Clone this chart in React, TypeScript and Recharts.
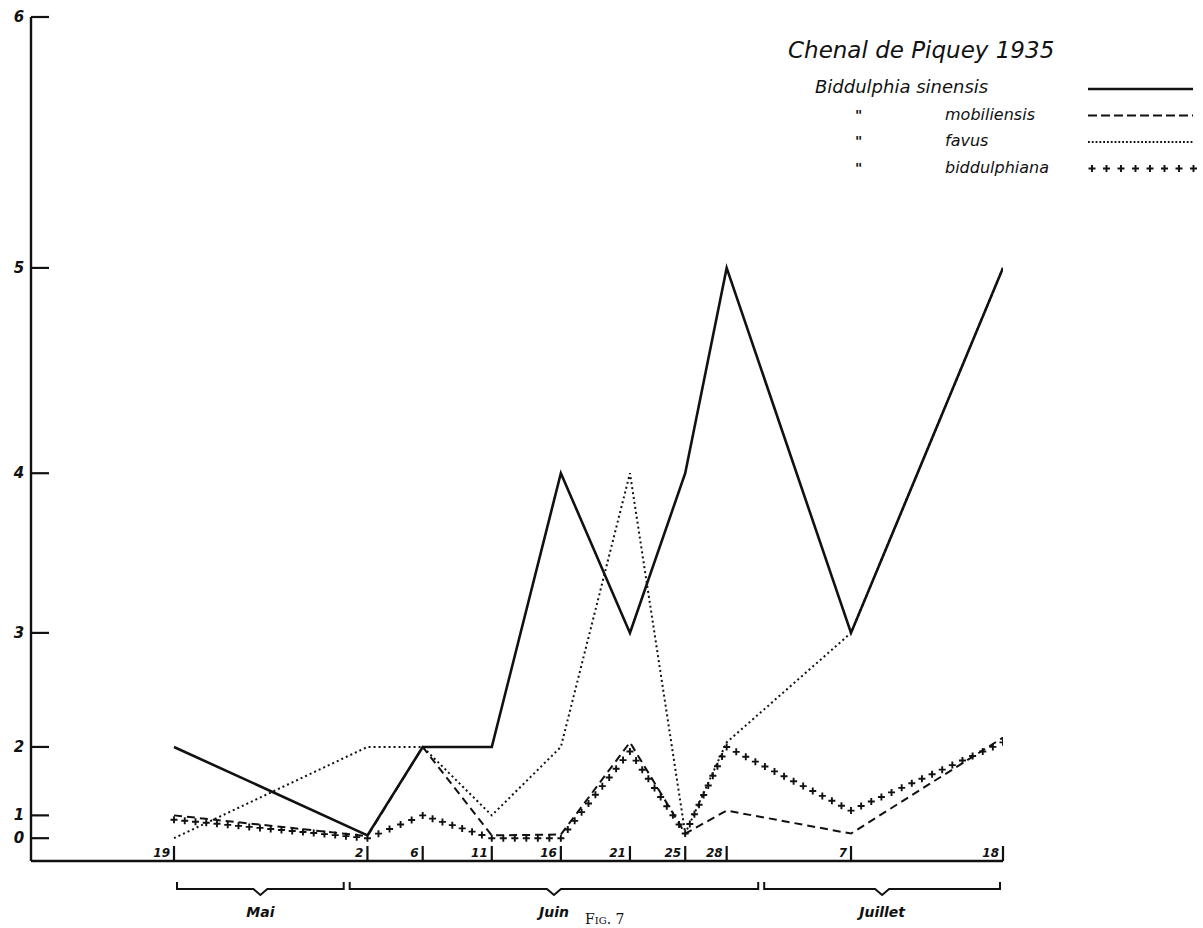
import { LineChart, Line, XAxis, YAxis, ReferenceArea, Legend } from 'recharts';

// Biddulphia counts, Chenal de Piquey, spring/summer 1935
const SAMPLE_DATES = [
  '1935-05-19', '1935-06-02', '1935-06-06', '1935-06-11', '1935-06-16',
  '1935-06-21', '1935-06-25', '1935-06-28', '1935-07-07', '1935-07-18',
];
const SINENSIS = [2, 0.35, 2, 2, 4, 3, 4, 5, 3, 5];
const MOBILIENSIS = [1, 0.3, 2, 0.35, 0.4, 2.05, 0.45, 1.1, 0.45, 2.1];
const FAVUS = [0, 2, 2, 1, 2, 4, 0.45, 2.05, 3, 5];
const BIDDULPHIANA = [0.9, 0, 1, 0, 0, 1.95, 0.45, 2, 1.1, 2.05];

const Y_TICKS = [0, 1, 2, 3, 4, 5, 6];

const MONTH_NAMES = ['Mai', 'Juin', 'Juillet'];
const MONTH_FIRST = ['1935-05-19', '1935-06-01', '1935-07-01'];
const MONTH_LAST = ['1935-05-31', '1935-06-30', '1935-07-18'];

const TITLE = 'Chenal de Piquey 1935';
const SPECIES_LABELS = ['Biddulphia sinensis', 'mobiliensis', 'favus', 'biddulphiana'];
const FIGURE_LABEL = 'Fig. 7';

const W = 1203;
const H = 928;
const INK = '#111';
const HAND = "'DejaVu Sans', sans-serif";

const ORIGIN = Date.parse(SAMPLE_DATES[0]);
const dayOf = (iso: string) => (Date.parse(iso) - ORIGIN) / 86400000;

// the vertical axis is ruled on a square scale, so values are squared before plotting
const sq = (v: number) => v * v;

const rows = SAMPLE_DATES.map((d, i) => ({
  day: dayOf(d),
  sinensis: sq(SINENSIS[i]),
  mobiliensis: sq(MOBILIENSIS[i]),
  favus: sq(FAVUS[i]),
  biddulphiana: sq(BIDDULPHIANA[i]),
}));

const dayLabels = new Map(rows.map((r, i) => [r.day, String(Number(SAMPLE_DATES[i].slice(8)))]));

const months = MONTH_NAMES.map((name, i) => ({
  name,
  from: i === 0 ? dayOf(MONTH_FIRST[i]) : dayOf(MONTH_FIRST[i]) - 0.5,
  to: i === MONTH_NAMES.length - 1 ? dayOf(MONTH_LAST[i]) : dayOf(MONTH_LAST[i]) + 0.5,
}));

const PLUS_STEP = 11;
const PLUS_ARM = 3.5;

function plusMark(px: number, py: number, key: string | number) {
  return (
    <path
      key={key}
      d={`M${px - PLUS_ARM},${py}H${px + PLUS_ARM}M${px},${py - PLUS_ARM}V${py + PLUS_ARM}`}
      stroke={INK}
      strokeWidth={1.9}
      fill="none"
    />
  );
}

// crosses laid along each segment of the biddulphiana line
function PlusRun({ cx, cy, index, points }: any) {
  const next = points?.[index + 1];
  const marks = [];
  if (next && next.x != null) {
    const dx = next.x - cx;
    const dy = next.y - cy;
    const n = Math.max(1, Math.round(Math.hypot(dx, dy) / PLUS_STEP));
    for (let k = 0; k < n; k++) {
      marks.push(plusMark(cx + (dx * k) / n, cy + (dy * k) / n, k));
    }
  } else {
    marks.push(plusMark(cx, cy, 'end'));
  }
  return <g>{marks}</g>;
}

function XTick({ x, y, payload }: any) {
  return (
    <g>
      <line x1={x} y1={y} x2={x} y2={y - 15} stroke={INK} strokeWidth={2.2} />
      <text
        x={x - 4}
        y={y - 4}
        textAnchor="end"
        fontSize={12}
        fontStyle="italic"
        fontWeight="bold"
        fontFamily={HAND}
        fill={INK}
      >
        {dayLabels.get(payload.value)}
      </text>
    </g>
  );
}

function YTick({ x, y, payload }: any) {
  return (
    <g>
      <line x1={x} y1={y} x2={x + 18} y2={y} stroke={INK} strokeWidth={2.2} />
      <text
        x={x - 12}
        y={y + 5}
        textAnchor="middle"
        fontSize={15}
        fontStyle="italic"
        fontWeight="bold"
        fontFamily={HAND}
        fill={INK}
      >
        {Math.round(Math.sqrt(payload.value))}
      </text>
    </g>
  );
}

function MonthBrace({ x, y, width, height, name }: any) {
  const top = y + height + 21;
  const bar = top + 7;
  const left = x + 3;
  const right = x + width - 3;
  const mid = x + width / 2;
  return (
    <g>
      <path
        d={`M${left},${top}V${bar}H${mid - 7}L${mid},${bar + 6}L${mid + 7},${bar}H${right}V${top}`}
        fill="none"
        stroke={INK}
        strokeWidth={2}
      />
      <text
        x={mid}
        y={bar + 28}
        textAnchor="middle"
        fontSize={14}
        fontStyle="italic"
        fontWeight="bold"
        fontFamily={HAND}
        fill={INK}
      >
        {name}
      </text>
    </g>
  );
}

function LegendBlock() {
  const sampleX1 = 1088;
  const sampleX2 = 1193;
  return (
    <svg width={W} height={200} style={{ display: 'block' }}>
      <text x={788} y={58} fontSize={23} fontStyle="italic" fontFamily={HAND} fill={INK}>
        {TITLE}
      </text>
      {SPECIES_LABELS.map((label, i) => {
        const base = 93 + i * 26.5;
        const ly = base - 4;
        let sample;
        if (i === 0) {
          sample = <line x1={sampleX1} y1={ly} x2={sampleX2} y2={ly} stroke={INK} strokeWidth={2.6} />;
        } else if (i === 1) {
          sample = (
            <line x1={sampleX1} y1={ly} x2={sampleX2} y2={ly} stroke={INK} strokeWidth={2} strokeDasharray="9 4" />
          );
        } else if (i === 2) {
          sample = (
            <line x1={sampleX1} y1={ly} x2={sampleX2} y2={ly} stroke={INK} strokeWidth={1.8} strokeDasharray="1.8 2" />
          );
        } else {
          sample = <g>{Array.from({ length: 8 }, (_, k) => plusMark(sampleX1 + 4 + k * 14.5, ly, k))}</g>;
        }
        return (
          <g key={label}>
            {i === 0 ? (
              <text x={815} y={base} fontSize={18} fontStyle="italic" fontFamily={HAND} fill={INK}>
                {label}
              </text>
            ) : (
              <>
                <text x={855} y={base} fontSize={14} fontWeight="bold" fontFamily={HAND} fill={INK}>
                  "
                </text>
                <text x={945} y={base} fontSize={16} fontStyle="italic" fontFamily={HAND} fill={INK}>
                  {label}
                </text>
              </>
            )}
            {sample}
          </g>
        );
      })}
    </svg>
  );
}

export default function App() {
  return (
    <div
      style={{
        position: 'absolute',
        left: 0,
        top: 0,
        width: W,
        height: H,
        overflow: 'hidden',
        background: '#fff',
      }}
    >
      <LineChart width={W} height={H} data={rows} margin={{ top: 17, right: 200, bottom: 0, left: 0 }}>
        <XAxis
          type="number"
          dataKey="day"
          domain={[-10.35, 60]}
          allowDataOverflow
          ticks={rows.map((r) => r.day)}
          interval={0}
          height={67}
          tickSize={0}
          tickMargin={0}
          tickLine={false}
          axisLine={{ stroke: INK, strokeWidth: 2.6 }}
          tick={<XTick />}
        />
        <YAxis
          type="number"
          domain={[-1, 36]}
          allowDataOverflow
          ticks={Y_TICKS.map(sq)}
          interval={0}
          width={31}
          tickSize={0}
          tickMargin={0}
          tickLine={false}
          axisLine={{ stroke: INK, strokeWidth: 2.4 }}
          tick={<YTick />}
        />
        {months.map((m) => (
          <ReferenceArea
            key={m.name}
            x1={m.from}
            x2={m.to}
            ifOverflow="visible"
            fill="none"
            shape={(p: any) => <MonthBrace {...p} name={m.name} />}
          />
        ))}
        <Line
          type="linear"
          dataKey="sinensis"
          stroke={INK}
          strokeWidth={2.6}
          dot={false}
          activeDot={false}
          isAnimationActive={false}
        />
        <Line
          type="linear"
          dataKey="mobiliensis"
          stroke={INK}
          strokeWidth={2}
          strokeDasharray="8 5"
          dot={false}
          activeDot={false}
          isAnimationActive={false}
        />
        <Line
          type="linear"
          dataKey="favus"
          stroke={INK}
          strokeWidth={2}
          strokeDasharray="2 3"
          dot={false}
          activeDot={false}
          isAnimationActive={false}
        />
        <Line
          type="linear"
          dataKey="biddulphiana"
          stroke="none"
          dot={(p: any) => <PlusRun key={p.index} cx={p.cx} cy={p.cy} index={p.index} points={p.points} />}
          activeDot={false}
          isAnimationActive={false}
        />
        <Legend
          layout="horizontal"
          verticalAlign="middle"
          align="center"
          wrapperStyle={{ top: 0, left: 0, width: W, height: 200, pointerEvents: 'none' }}
          content={() => <LegendBlock />}
        />
      </LineChart>
      <div
        style={{
          position: 'absolute',
          left: 585,
          top: 911,
          fontFamily: "'DejaVu Serif', serif",
          fontVariant: 'small-caps',
          fontSize: 14,
          color: INK,
          lineHeight: '16px',
        }}
      >
        {FIGURE_LABEL}
      </div>
    </div>
  );
}
